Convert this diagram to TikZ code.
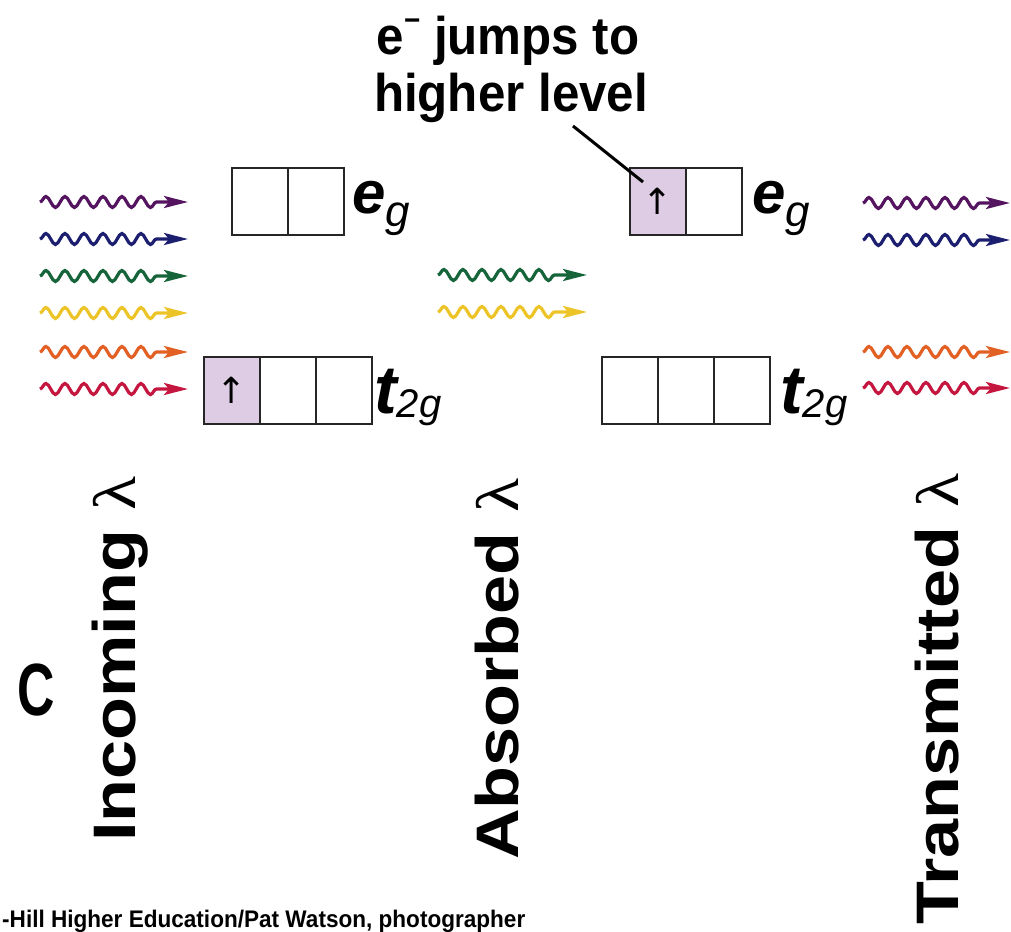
\documentclass[tikz,border=0pt]{standalone}
\usepackage{fontspec}
\setmainfont{Liberation Sans}
\newfontfamily\arrowfont{DejaVu Sans}
\newfontfamily\lamfont{Liberation Serif}
\usetikzlibrary{arrows.meta,decorations.pathmorphing}
\definecolor{wpurple}{RGB}{85,20,95}
\definecolor{wblue}{RGB}{28,30,112}
\definecolor{wgreen}{RGB}{22,100,58}
\definecolor{wyellow}{RGB}{236,196,40}
\definecolor{worange}{RGB}{226,96,36}
\definecolor{wred}{RGB}{196,22,62}
\definecolor{cellfill}{RGB}{222,204,228}
\begin{document}
\begin{tikzpicture}[x=1pt,y=-1pt,
  cell/.style={draw=black!85,line width=2.8pt,minimum width=56pt,minimum height=67pt,inner sep=0pt,outer sep=0pt,anchor=north west},
  filledcell/.style={cell,fill=cellfill},
  wave/.style={line width=3.2pt,decorate,decoration={snake,segment length=19pt,amplitude=5.5pt,post length=26pt},-{Stealth[length=24pt,width=12pt,inset=5pt]}},
  vlabel/.style={rotate=90,anchor=base west,inner sep=0pt,font=\fontsize{60}{60}\selectfont\bfseries},
  lvl/.style={anchor=base west,inner sep=0pt},
  spin/.style={inner sep=0pt,font=\arrowfont\fontsize{36}{36}\selectfont},
  titletext/.style={anchor=base,inner sep=0pt,font=\fontsize{53}{57}\selectfont\bfseries}
]
\useasboundingbox (0,0) rectangle (1011,931);

% title
\node[titletext] (title1) at (508,55) {\scalebox{0.93}[1]{e\raisebox{24pt}{\fontsize{30}{30}\selectfont −} jumps to}};
\node[titletext] (title2) at (511,112) {\scalebox{0.93}[1]{higher level}};

% left levels
\node[cell] (le1) at (232,168) {};
\node[cell] (le2) at (288,168) {};
\node[filledcell] (lt1) at (204,357) {};
\node[cell] (lt2) at (260,357) {};
\node[cell] (lt3) at (316,357) {};
\node[spin] (lspin) at (lt1.center) {↑};
\node[lvl] (leg) at (352,213) {\fontsize{60}{60}\selectfont\bfseries\itshape e\raisebox{-13pt}{\fontsize{44}{44}\selectfont\mdseries\itshape g}};
\node[lvl] (ltg) at (374,413) {\fontsize{68}{68}\selectfont\bfseries\itshape t\raisebox{-4pt}{\fontsize{40}{40}\selectfont\mdseries\itshape 2g}};

% right levels
\node[filledcell] (re1) at (630,168) {};
\node[cell] (re2) at (686,168) {};
\node[cell] (rt1) at (602,357) {};
\node[cell] (rt2) at (658,357) {};
\node[cell] (rt3) at (714,357) {};
\node[spin] (rspin) at (re1.center) {↑};
\node[lvl] (reg) at (752,213) {\fontsize{60}{60}\selectfont\bfseries\itshape e\raisebox{-13pt}{\fontsize{44}{44}\selectfont\mdseries\itshape g}};
\node[lvl] (rtg) at (780,413) {\fontsize{68}{68}\selectfont\bfseries\itshape t\raisebox{-4pt}{\fontsize{40}{40}\selectfont\mdseries\itshape 2g}};

% pointer
\coordinate (ptrA) at (573,126);
\coordinate (ptrB) at (643,182);
\draw[line width=3pt] (ptrA) -- (ptrB);

% incoming waves
\foreach \y/\c [count=\i] in {202/wpurple,239/wblue,276/wgreen,313/wyellow,352/worange,389/wred}{
  \coordinate (ia\i) at (40,\y);
  \coordinate (ib\i) at (188,\y);
  \draw[wave,\c] (ia\i) -- (ib\i);
}
% absorbed waves
\foreach \y/\c [count=\i] in {275/wgreen,312/wyellow}{
  \coordinate (aa\i) at (438,\y);
  \coordinate (ab\i) at (587,\y);
  \draw[wave,\c] (aa\i) -- (ab\i);
}
% transmitted waves
\foreach \y/\c [count=\i] in {203/wpurple,240/wblue,352/worange,388/wred}{
  \coordinate (ta\i) at (863,\y);
  \coordinate (tb\i) at (1010,\y);
  \draw[wave,\c] (ta\i) -- (tb\i);
}

% vertical labels
\node[vlabel] (inc) at (135,842) {\scalebox{1.17}[1]{Incoming {\mdseries\lamfont λ}}};
\node[vlabel] (abs) at (518,860) {\scalebox{1.17}[1]{Absorbed {\mdseries\lamfont λ}}};
\node[vlabel] (tra) at (958,925) {\scalebox{1.17}[1]{Transmitted {\mdseries\lamfont λ}}};

% panel letter
\node[anchor=base west,inner sep=0pt,font=\fontsize{74}{74}\selectfont\bfseries] (panel) at (17,715) {\scalebox{0.7}[1]{C}};

% credit
\node[anchor=base west,inner sep=0pt,font=\fontsize{24}{24}\selectfont\bfseries] (credit) at (2,927) {\scalebox{0.94}[1]{-Hill Higher Education/Pat Watson, photographer}};
\end{tikzpicture}
\end{document}
